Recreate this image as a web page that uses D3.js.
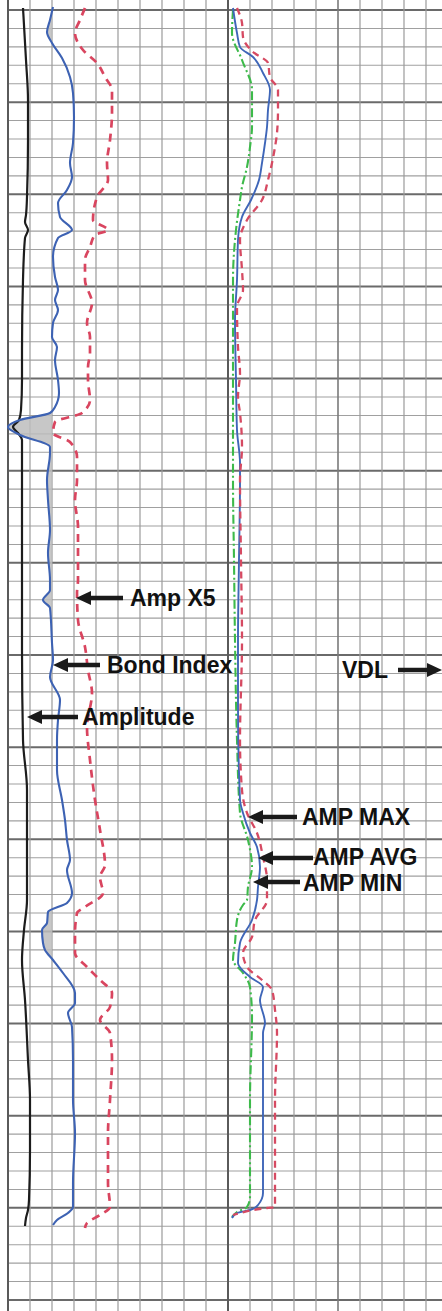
<!DOCTYPE html>
<html><head><meta charset="utf-8">
<script src="https://cdn.jsdelivr.net/npm/d3@7"></script>
<style>html,body{margin:0;padding:0;background:#fff;} svg{display:block}</style>
</head><body>
<script>
// ---- Track 1 : Amplitude (black) ----
const ampDepth=[-2,50,90,130,187,205,212,220,228,270,340,370,400,410,417,423,430,490,570,640,730,780,840,890,920,950,990,1050,1090,1140,1190,1200,1208,1216];
const ampVal=[7.5,9,10,10,9.5,9,8.5,10,8.5,7.5,7,7,6.5,5.5,2.5,5,7,7,7,7,7.5,9.5,9.5,9.5,8,7,8.5,10,11,11,10.5,10,9,8.5];
// ---- Track 1 : Bond Index (blue) ----
const biDepth=[-3,10,22,33,48,67,83,107,133,153,167,180,193,207,220,228,247,267,280,290,300,313,327,337,350,370,383,397,403,410,417,425,437,443,470,490,520,543,570,580,590,598,633,650,667,690,710,730,760,790,810,830,850,860,883,893,902,913,920,933,940,950,963,983,993,1003,1017,1050,1090,1123,1173,1197,1203,1210,1215];
const biVal=[22.5,21,19.5,22,27,31,32.5,33,32.5,31,32,29.5,25,26,32,25,22.5,23.5,25,23.5,25,22.5,22,24.5,23.5,25,25.5,23.5,21,6,0,6,21,21,19.5,20,21,20,21,21,17.5,21,22,22.5,21,26,25,24.5,24.5,27,28.5,29.5,31,29.5,32,29.5,20,19.5,17,17.5,18.5,22.5,27.5,33.5,33.5,30,32,32.5,32.5,33.5,32.5,32.5,30,24.5,22.5];
const biCutoff=22;
// ---- Track 1 : Amp X5 (red dashed) ----
const x5Depth=[-2,10,23,40,53,67,80,103,130,153,170,187,210,220,225,237,250,270,293,313,327,343,357,370,390,403,412,423,432,447,470,490,517,537,570,583,610,637,660,683,717,750,790,820,855,867,883,897,903,923,943,957,970,983,997,1010,1023,1050,1090,1123,1173,1197,1205,1213,1218];
const x5Val=[38.5,36,33.5,37.5,44.5,48.5,52,52,51,49.5,50,44.5,42.5,50,43.5,41,38.5,38.5,42,39.5,41,41,40,40,41,37,23.5,22.5,31,34.5,34.5,33.5,35,35,35,34.5,35,38.5,40,42,39.5,41,43.5,46,48.5,46,47.5,38.5,34.5,33.5,33.5,39.5,46,52,51,46,51,52,51,50,50,51,46,39.5,38.5];
// ---- Track 2 : AMP AVG (blue) ----
const avgDepth=[-2,23,37,47,63,80,100,117,133,153,170,190,207,230,270,310,370,420,453,470,550,630,697,790,803,823,837,857,877,890,910,933,953,967,977,990,1013,1023,1090,1183,1195,1200,1203,1208];
const avgVal=[2.5,4.5,6,12.5,17.5,21,20,19.5,18.5,17,15.5,11.5,7,5,4.5,3.5,4,4.5,6,6,5.5,5,5,6,7.5,11,14.5,16,15,14.5,12,6,5,11,17.5,16,18.5,17.5,17.5,17.5,15,11,4.5,2];
// ---- Track 2 : AMP MAX (red dashed) ----
const maxDepth=[-2,13,27,42,53,67,80,100,123,137,153,170,190,210,230,260,280,297,337,363,387,403,437,470,550,630,730,780,803,823,847,870,890,910,927,943,957,970,980,1000,1023,1090,1197,1198,1200,1203,1205];
const maxVal=[4.5,7,7.5,12.5,20,21,25,25,24.5,23.5,22,20,17,9.5,6,7,7.5,4.5,5,6,5,6,7,6,6.5,7,6,7,9.5,14.5,17.5,19.5,19.5,13.5,12,7.5,9.5,17,22,23.5,24.5,23.5,23.5,19.5,12.5,6,2.5];
// ---- Track 2 : AMP MIN (green dash-dot) ----
const minDepth=[0,23,50,80,103,117,137,157,177,190,220,270,370,470,550,630,730,803,830,857,877,890,895,910,933,950,963,977,1007,1090,1187,1197,1202,1207];
const minVal=[2.5,2,7,12,12,12,11,9.5,7,6,4,2.5,2.5,2.5,3,3.5,4.5,6,10,12,10,9.5,7.5,4.5,3.5,2.5,7.5,11,12,11,11,9.5,4.5,2];
// ---- Annotations (depth, tip value, track) ----
const labels=[
 {text:"Amp X5",track:1,depth:588,tip:34,tail:123,tx:130,dy:0},
 {text:"Bond Index",track:1,depth:655,tip:22.5,tail:100,tx:107,dy:0},
 {text:"Amplitude",track:1,depth:707,tip:9.5,tail:78,tx:82,dy:0},
 {text:"AMP MAX",track:2,depth:807,tip:10,tail:297,tx:302,dy:0},
 {text:"AMP AVG",track:2,depth:848,tip:15,tail:313,tx:313,dy:-1},
 {text:"AMP MIN",track:2,depth:872,tip:12.5,tail:300,tx:303,dy:1}
];

const W=442,H=1311;
const svg=d3.select("body").append("svg").attr("width",W).attr("height",H);
const y=d3.scaleLinear().domain([0,1290]).range([10,1300]);
const x1=d3.scaleLinear().domain([0,110]).range([8,228]);
const x2=d3.scaleLinear().domain([0,55]).range([228,338]);
const gx=d3.scaleLinear().domain([0,20]).range([8,448]);

// grid
const g=svg.append("g");
d3.range(71).forEach(i=>{
  const d=i*1290/70, major=i%5===0;
  g.append("line").attr("x1",7).attr("x2",W).attr("y1",y(d)).attr("y2",y(d))
   .attr("stroke",major?"#6a6a6a":"#a0a0a0").attr("stroke-width",major?2:1.1);
});
d3.range(20).forEach(i=>{
  const strong=(i===0||i===10), mid=(i===15);
  g.append("line").attr("x1",gx(i)).attr("x2",gx(i)).attr("y1",0).attr("y2",H)
   .attr("stroke",strong?"#5a5a5a":(mid?"#7a7a7a":"#9a9a9a")).attr("stroke-width",strong?2:(mid?1.6:1.2));
});

const zip=(ds,vs)=>ds.map((d,i)=>({d:d,v:vs[i]}));
const mk=xs=>d3.line().y(p=>y(p.d)).x(p=>xs(p.v)).curve(d3.curveMonotoneY);

// bond index fill
svg.append("clipPath").attr("id","cut").append("rect")
  .attr("x",0).attr("y",0).attr("width",x1(biCutoff)).attr("height",H);
svg.append("path").datum(zip(biDepth,biVal))
  .attr("clip-path","url(#cut)")
  .attr("d",d3.area().y(p=>y(p.d)).x0(p=>x1(p.v)).x1(x1(biCutoff)).curve(d3.curveMonotoneY))
  .attr("fill","#bdbdbd").attr("opacity",0.85);

// track 1 curves
svg.append("path").datum(zip(ampDepth,ampVal)).attr("d",mk(x1))
  .attr("fill","none").attr("stroke","#1c1c1c").attr("stroke-width",2.2);
svg.append("path").datum(zip(biDepth,biVal)).attr("d",mk(x1))
  .attr("fill","none").attr("stroke","#3d62b3").attr("stroke-width",2.1);
svg.append("path").datum(zip(x5Depth,x5Val)).attr("d",mk(x1))
  .attr("fill","none").attr("stroke","#d9455f").attr("stroke-width",2.7).attr("stroke-dasharray","8,6");

// track 2 curves
svg.append("path").datum(zip(minDepth,minVal)).attr("d",mk(x2))
  .attr("fill","none").attr("stroke","#3dba4a").attr("stroke-width",2.1).attr("stroke-dasharray","9,3,2,3");
svg.append("path").datum(zip(avgDepth,avgVal)).attr("d",mk(x2))
  .attr("fill","none").attr("stroke","#3f66b8").attr("stroke-width",1.9);
svg.append("path").datum(zip(maxDepth,maxVal)).attr("d",mk(x2))
  .attr("fill","none").attr("stroke","#d64a62").attr("stroke-width",2.3).attr("stroke-dasharray","7,5");

// arrows + labels
function arrow(tipX,tailX,yy){
  const dir=tailX>tipX?1:-1, hl=15, hh=7;
  svg.append("line").attr("x1",tipX+dir*hl*0.8).attr("x2",tailX).attr("y1",yy).attr("y2",yy)
    .attr("stroke","#1a1a1a").attr("stroke-width",4.5);
  svg.append("path").attr("d",`M${tipX},${yy}L${tipX+dir*hl},${yy-hh}L${tipX+dir*hl},${yy+hh}Z`)
    .attr("fill","#1a1a1a");
}
function label(t,xx,yy){
  svg.append("text").attr("x",xx).attr("y",yy+8).text(t)
    .attr("font-family","'Liberation Sans',Arial,sans-serif").attr("font-size",23)
    .attr("font-weight","bold").attr("fill","#111");
}
labels.forEach(l=>{
  const xs=l.track===1?x1:x2, yy=y(l.depth);
  arrow(xs(l.tip),l.tail,yy);
  label(l.text,l.tx,yy+l.dy);
});
// VDL arrow points right into track 3
const vdlY=y(660);
arrow(442,398,vdlY);
label("VDL",342,vdlY);
</script>
</body></html>
